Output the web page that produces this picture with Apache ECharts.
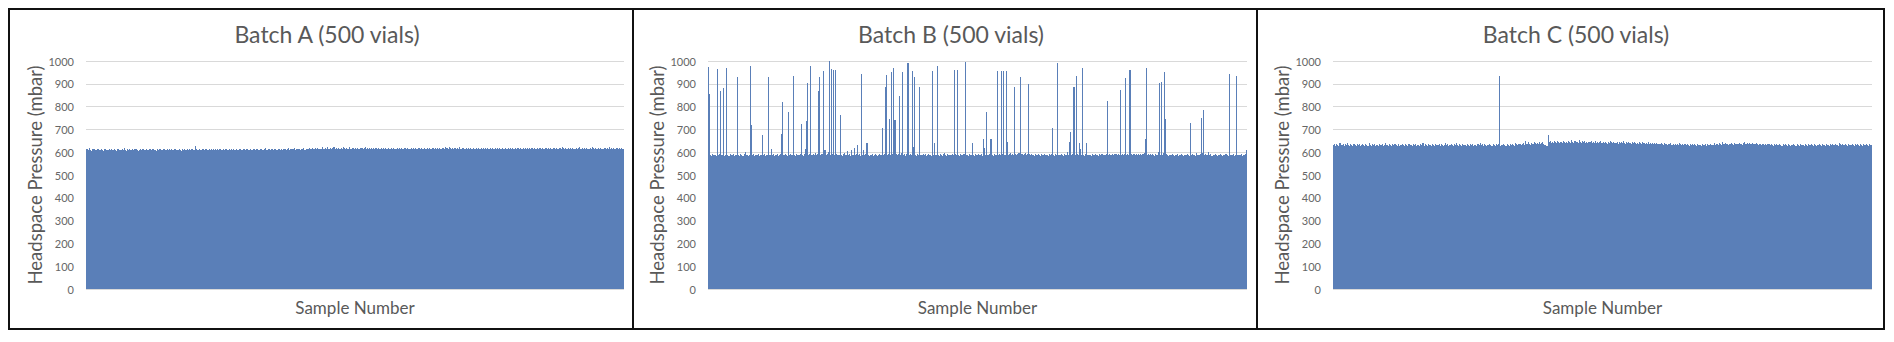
<!DOCTYPE html>
<html>
<head>
<meta charset="utf-8">
<script src="https://cdn.jsdelivr.net/npm/echarts@6/dist/echarts.min.js"></script>
<style>
html,body{margin:0;padding:0;background:#fff;}
#chart{position:absolute;left:0;top:0;width:1894px;height:342px;}
#chart svg path{shape-rendering:crispEdges;}
.frame{position:absolute;border:2px solid #111;box-sizing:border-box;pointer-events:none;}
.div{position:absolute;background:#111;width:2px;top:8px;height:322px;pointer-events:none;}
</style>
</head>
<body>
<div id="chart"></div>
<div class="frame" style="left:8px;top:8px;width:1877px;height:322px;"></div>
<div class="div" style="left:632px;"></div>
<div class="div" style="left:1256px;"></div>
<script>
const titles = ['Batch A (500 vials)', 'Batch B (500 vials)', 'Batch C (500 vials)'];
const yAxisTitle = 'Headspace Pressure (mbar)';
const xAxisTitle = 'Sample Number';
const yTicks = {min: 0, max: 1000, interval: 100};
const categories = Array.from({length: 500}, (_, i) => i + 1);

const batchA = [
612,615,609,618,611,607,613,616,610,608,614,612,609,611,615,610,607,612,616,611,609,613,610,612,608,
611,614,609,606,612,615,610,608,613,611,617,609,607,612,610,614,611,608,613,609,612,615,610,607,611,
613,609,612,616,610,608,614,611,609,613,610,612,615,609,611,607,613,610,612,616,609,611,614,610,608,
612,610,613,609,615,611,608,612,614,610,609,613,611,607,612,610,614,609,611,613,608,612,610,615,611,
609,629,612,610,608,613,611,609,614,612,610,613,609,611,615,610,612,608,613,611,614,609,612,610,616,
611,609,613,610,612,615,608,611,614,610,612,609,613,611,616,610,608,612,614,611,609,613,612,610,615,
612,610,614,611,609,613,616,610,612,614,609,611,615,612,610,613,617,611,609,614,612,610,616,613,611,
614,612,610,615,613,611,616,609,613,615,612,610,614,617,611,613,615,612,618,610,614,612,616,613,611,
615,613,617,611,614,616,612,618,613,615,620,612,614,617,613,619,615,612,616,621,614,613,618,615,622,
616,614,619,613,617,621,615,618,614,620,616,613,619,615,622,617,614,618,616,621,615,613,619,617,614,
618,615,620,616,613,619,617,614,618,621,615,617,613,619,616,618,614,620,615,617,613,618,616,614,619,
615,617,613,618,616,614,619,615,617,612,618,614,616,613,619,615,617,614,618,616,613,617,615,619,614,
616,614,618,613,617,615,619,614,616,618,613,617,615,614,619,616,613,618,615,617,614,616,619,613,617,
615,618,614,620,616,613,619,617,615,621,618,616,622,617,615,619,616,620,617,614,618,616,621,615,617,
619,616,614,618,615,617,613,619,616,614,618,615,617,614,619,616,613,618,615,617,614,619,616,618,615,
617,614,618,616,613,619,615,617,614,618,616,613,617,615,619,614,616,618,613,617,615,619,616,614,618,
615,617,614,619,616,613,618,615,617,614,620,616,618,614,617,615,619,616,613,618,615,620,617,614,618,
616,614,619,615,617,613,618,616,614,620,617,615,619,616,614,618,615,621,617,614,619,616,613,618,615,
617,614,619,616,613,618,615,617,621,616,614,619,615,617,613,620,616,614,618,615,621,617,614,619,616,
614,618,616,620,615,613,619,617,614,618,616,621,615,617,614,619,616,613,618,615,617,614,619,616,615
];

const batchB = [
975,855,588,585,590,586,589,584,965,587,591,870,586,588,880,585,589,970,587,584,590,586,588,592,585,
589,586,930,588,584,590,587,585,591,600,586,589,584,588,980,720,587,590,585,588,586,591,584,589,587,
675,586,590,585,588,587,930,589,615,586,590,584,588,587,591,585,589,593,680,820,586,590,587,584,775,
588,591,586,589,935,587,585,590,588,586,592,725,589,585,591,612,737,905,588,590,980,586,593,589,596,
588,591,870,930,587,590,593,955,610,588,591,600,1000,589,965,592,960,587,960,590,586,589,765,588,585,
590,595,586,589,605,587,591,584,610,588,620,586,590,630,587,591,585,945,588,610,586,590,640,587,584,
589,586,590,585,588,591,587,584,589,592,586,705,588,590,885,940,587,591,745,589,950,593,970,740,590,
586,591,845,588,595,950,587,590,585,592,990,588,594,589,955,625,930,588,585,590,587,885,589,586,591,
587,590,585,588,592,586,589,584,955,588,640,587,980,589,585,591,587,584,590,596,588,585,591,587,589,
586,590,588,960,593,587,960,589,585,591,588,586,590,995,587,589,584,590,588,586,640,589,585,591,587,
590,586,588,592,585,660,620,587,775,589,586,591,660,588,585,590,587,589,955,586,591,588,955,590,955,
587,955,645,589,592,595,588,590,586,885,593,589,591,597,930,590,594,588,591,595,589,592,900,590,587,
591,588,585,590,586,589,592,587,584,590,588,586,591,587,589,585,590,587,592,705,588,585,590,587,990,
589,586,590,587,585,591,588,586,600,589,645,690,587,591,885,588,935,590,586,640,615,589,970,587,585,
590,640,586,589,587,585,590,588,586,591,587,589,584,590,588,592,586,589,587,591,825,588,590,586,589,
592,587,590,593,588,591,586,875,589,592,587,590,925,588,593,589,960,591,587,590,594,588,591,586,590,
588,592,587,590,595,660,970,589,592,587,590,586,591,588,585,590,587,600,905,589,910,586,598,950,745,
590,587,585,589,586,590,588,584,589,587,591,585,588,586,590,587,584,589,586,590,588,585,730,587,590,
586,589,585,598,588,586,590,750,595,785,588,591,586,589,600,587,590,585,589,586,590,587,584,589,586,
590,587,585,589,586,590,588,584,945,587,589,586,590,585,588,935,586,589,587,590,585,588,586,590,610
];

const batchC = [
630,634,628,637,632,629,641,633,630,636,628,634,631,639,630,627,635,632,629,637,631,628,634,630,636,
629,633,638,630,627,635,631,629,642,632,628,634,630,637,629,633,631,628,636,630,634,627,632,639,630,
633,629,636,631,628,634,630,637,632,629,635,628,633,630,638,631,627,634,632,629,636,630,633,628,635,
631,637,629,633,630,628,635,632,640,629,634,631,627,636,630,633,629,635,631,628,637,632,630,634,629,
636,631,628,633,639,630,635,629,632,637,631,628,634,630,641,633,629,635,631,627,636,630,633,629,638,
632,628,634,630,637,629,633,631,627,635,632,640,630,634,628,636,631,629,633,630,638,632,627,635,631,
629,634,630,637,935,628,633,630,636,631,629,635,632,628,634,630,637,633,629,640,635,631,638,634,632,
636,642,633,648,638,635,644,637,633,641,636,645,639,634,642,637,644,635,640,646,638,633,630,628,675,
645,648,642,646,640,647,643,641,649,644,640,646,642,648,643,639,645,641,647,644,640,652,645,642,648,
643,646,640,655,644,641,647,643,650,642,645,640,646,643,649,641,644,640,647,642,645,639,643,648,641,
644,640,646,642,638,645,641,651,643,639,646,642,640,644,638,645,641,643,639,647,642,638,644,640,645,
641,637,643,639,646,640,636,642,638,644,640,637,643,639,635,641,638,644,636,640,637,642,634,639,636,
640,635,638,634,641,636,633,639,635,637,632,638,634,640,631,636,633,637,630,635,632,639,634,631,636,
633,637,630,635,632,629,636,631,634,630,638,632,629,635,631,633,628,636,632,630,634,629,637,633,631,
635,630,633,640,632,637,634,631,639,635,633,643,637,634,640,636,632,638,635,641,637,633,639,636,634,
638,635,641,636,633,639,645,637,634,640,636,642,638,635,641,637,634,639,636,632,638,635,633,637,634,
631,636,633,638,634,630,635,632,629,634,631,637,633,630,635,632,628,634,631,636,633,629,635,631,628,
633,630,636,632,629,634,631,627,635,632,630,633,629,636,631,628,634,630,637,632,629,635,631,628,633,
630,635,631,628,634,632,629,636,630,633,627,635,631,638,633,630,636,632,629,640,634,631,637,633,630,
635,632,629,637,633,630,636,631,628,634,630,637,632,629,635,631,628,634,630,636,632,629,635,631,633
];

const FONT = 'Lato, "Open Sans", sans-serif';
const GRAY = '#595959';
const BAR = '#5a7fb8';
const grids = [
  {left: 86, top: 61, width: 538, height: 228},
  {left: 708, top: 61, width: 539, height: 228},
  {left: 1333, top: 61, width: 539, height: 228}
];
const titleX = [322, 946, 1571];
const series = [batchA, batchB, batchC];

const chart = echarts.init(document.getElementById('chart'), null, {renderer: 'svg'});
chart.setOption({
  animation: false,
  backgroundColor: '#fff',
  title: titles.map((t, i) => ({
    text: t, left: titleX[i], top: 17, textAlign: 'center',
    textStyle: {fontFamily: FONT, fontSize: 23, fontWeight: 'normal', color: GRAY}
  })),
  grid: grids,
  xAxis: grids.map((g, i) => ({
    type: 'category', gridIndex: i, data: categories,
    name: xAxisTitle, nameLocation: 'middle', nameGap: 10,
    nameTextStyle: {fontFamily: FONT, fontSize: 17, color: GRAY},
    axisLine: {lineStyle: {color: '#d9d9d9'}},
    axisTick: {show: false}, axisLabel: {show: false}
  })),
  yAxis: grids.map((g, i) => ({
    type: 'value', gridIndex: i, min: yTicks.min, max: yTicks.max, interval: yTicks.interval,
    name: yAxisTitle, nameLocation: 'middle', nameGap: 40,
    nameTextStyle: {fontFamily: FONT, fontSize: 18.5, color: GRAY},
    axisLine: {show: false}, axisTick: {show: false},
    axisLabel: {fontFamily: FONT, fontSize: 11, color: '#666', margin: 12, formatter: v => String(v)},
    splitLine: {lineStyle: {color: '#d9d9d9', width: 1}}
  })),
  series: series.map((d, i) => ({
    type: 'bar', xAxisIndex: i, yAxisIndex: i, data: d,
    barCategoryGap: '0%', barGap: '0%',
    itemStyle: {color: BAR}, large: false
  }))
});
</script>
</body>
</html>
